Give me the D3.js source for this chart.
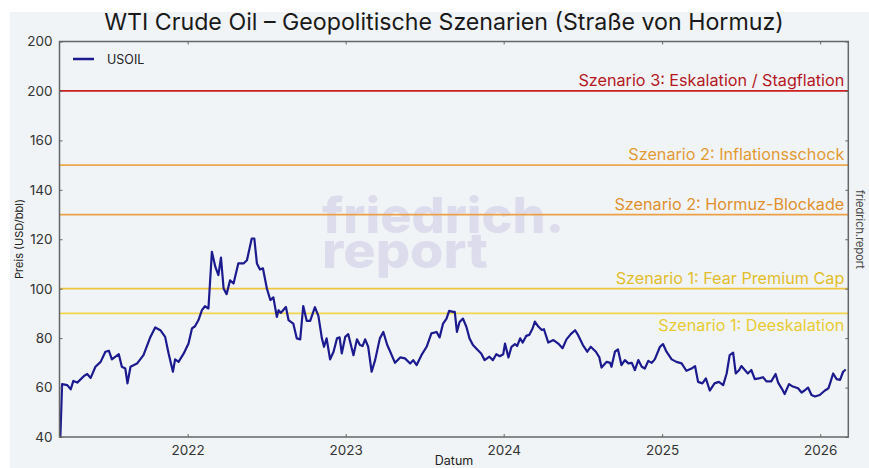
<!DOCTYPE html>
<html><head><meta charset="utf-8">
<script src="https://cdn.jsdelivr.net/npm/d3@7/dist/d3.min.js"></script>
<style>body{margin:0;background:#fff}svg{display:block}</style></head>
<body><svg id="c" width="869" height="468"></svg>
<script>
// ---- data ----
const dates = ["2021-03-13","2021-03-17","2021-03-29","2021-04-06","2021-04-12","2021-04-21","2021-05-06","2021-05-14","2021-05-22","2021-06-02","2021-06-14","2021-06-25","2021-07-03","2021-07-10","2021-07-26","2021-08-02","2021-08-10","2021-08-15","2021-08-22","2021-09-06","2021-09-21","2021-10-07","2021-10-18","2021-10-30","2021-11-10","2021-11-18","2021-11-28","2021-12-03","2021-12-11","2021-12-23","2022-01-03","2022-01-11","2022-01-18","2022-01-26","2022-02-03","2022-02-10","2022-02-18","2022-02-26","2022-03-06","2022-03-13","2022-03-19","2022-03-25","2022-04-01","2022-04-09","2022-04-17","2022-04-28","2022-05-10","2022-05-18","2022-05-29","2022-06-04","2022-06-10","2022-06-17","2022-06-24","2022-07-03","2022-07-11","2022-07-18","2022-07-26","2022-07-30","2022-08-04","2022-08-16","2022-08-22","2022-09-02","2022-09-10","2022-09-18","2022-09-25","2022-10-03","2022-10-11","2022-10-22","2022-10-30","2022-11-07","2022-11-12","2022-11-18","2022-11-26","2022-12-04","2022-12-12","2022-12-18","2022-12-23","2022-12-31","2023-01-07","2023-01-19","2023-01-27","2023-02-03","2023-02-09","2023-02-15","2023-02-22","2023-03-02","2023-03-10","2023-03-21","2023-03-29","2023-04-07","2023-04-14","2023-04-25","2023-05-07","2023-05-18","2023-05-30","2023-06-06","2023-06-14","2023-06-25","2023-07-07","2023-07-18","2023-07-30","2023-08-06","2023-08-14","2023-08-22","2023-08-28","2023-09-06","2023-09-10","2023-09-15","2023-09-21","2023-09-29","2023-10-07","2023-10-14","2023-10-22","2023-11-02","2023-11-10","2023-11-18","2023-11-29","2023-12-07","2023-12-15","2023-12-23","2023-12-31","2024-01-04","2024-01-12","2024-01-19","2024-01-27","2024-02-01","2024-02-08","2024-02-14","2024-02-22","2024-02-29","2024-03-08","2024-03-13","2024-03-21","2024-03-29","2024-04-03","2024-04-13","2024-04-25","2024-05-06","2024-05-16","2024-05-25","2024-06-04","2024-06-14","2024-06-21","2024-07-02","2024-07-12","2024-07-20","2024-08-01","2024-08-09","2024-08-14","2024-08-26","2024-09-03","2024-09-06","2024-09-14","2024-09-21","2024-09-29","2024-10-07","2024-10-15","2024-10-23","2024-10-30","2024-11-07","2024-11-15","2024-11-22","2024-11-30","2024-12-08","2024-12-15","2024-12-27","2025-01-03","2025-01-11","2025-01-23","2025-02-03","2025-02-15","2025-02-26","2025-03-10","2025-03-18","2025-03-25","2025-04-04","2025-04-12","2025-04-21","2025-05-02","2025-05-12","2025-05-22","2025-05-30","2025-06-06","2025-06-14","2025-06-20","2025-06-28","2025-07-03","2025-07-11","2025-07-18","2025-07-26","2025-08-03","2025-08-15","2025-08-22","2025-08-30","2025-09-10","2025-09-20","2025-09-26","2025-10-04","2025-10-11","2025-10-21","2025-10-30","2025-11-11","2025-11-19","2025-11-26","2025-12-04","2025-12-12","2025-12-20","2025-12-31","2026-01-12","2026-01-20","2026-01-25","2026-01-31","2026-02-08","2026-02-16","2026-02-23","2026-03-01"];
const prices = [40,61.4,61.0,59.3,62.7,62.0,64.6,65.5,63.9,68.4,70.4,74.5,74.9,71.4,73.5,68.4,67.7,61.7,68.4,69.7,73.1,80.5,84.3,83.2,80.5,73.8,66.4,71.4,70.4,73.8,77.8,83.9,84.8,87.3,91.3,92.9,92.0,114.9,108.8,105.5,112.6,100.1,97.8,103.4,102.1,110.2,110.2,111.5,120.3,120.3,110.2,107.8,108.2,100.1,95.4,96.5,88.6,91.3,90.2,92.6,87.3,85.9,79.9,79.5,93.0,87.0,87.0,92.5,89.0,80.0,76.5,79.9,71.4,74.5,79.9,80.3,73.8,80.5,81.6,73.1,79.5,77.2,76.8,79.5,76.5,66.4,71.1,79.9,82.5,77.2,74.5,70.0,72.2,71.8,69.7,71.1,69.1,73.1,76.5,81.9,82.5,80.3,85.9,87.9,91.0,90.6,90.6,82.5,86.5,87.9,84.5,79.9,77.2,75.2,73.8,71.1,72.5,71.1,73.5,72.7,73.5,77.8,72.2,76.5,77.6,76.8,79.9,78.2,80.9,81.3,84.0,86.7,84.7,83.3,83.6,78.2,79.2,77.8,75.9,79.5,81.6,83.2,81.2,77.2,74.5,76.5,74.5,72.2,68.1,70.4,70.0,68.4,74.5,75.4,69.1,71.1,69.8,70.0,67.1,71.1,68.4,67.7,70.8,70.0,71.4,76.5,77.6,74.5,71.4,70.4,69.8,66.8,67.7,68.7,62.3,61.7,63.7,58.8,61.7,62.3,61.0,65.7,73.1,74.1,65.7,67.1,68.7,67.1,65.7,67.1,63.4,63.8,64.2,62.5,62.5,65.5,62.0,59.7,57.4,61.4,60.4,59.7,58.0,58.8,60.0,57.0,56.4,57.0,58.8,59.7,62.3,65.7,63.4,63.1,66.4,67.3];

const scenarioNames  = ["Szenario 3: Eskalation / Stagflation","Szenario 2: Inflationsschock","Szenario 2: Hormuz-Blockade","Szenario 1: Fear Premium Cap","Szenario 1: Deeskalation"];
const scenarioLevels = [180,150,130,100,90];   // drawn positions on the y scale
const scenarioLabelBelow = [false,false,false,false,true];
const scenarioLineColors  = ["#cc1f1f","#eca84a","#eba047","#ebc440","#f0d44a"];
const scenarioLabelColors = ["#b5171f","#e39a35","#e0902d","#e2bd2d","#e8cb34"];

const yTickValues = [40,60,80,100,120,140,160,180,200];
const yTickLabels = ["40","60","80","100","120","140","160","200","200"];
const xTickYears  = [2022,2023,2024,2025,2026];

const seriesName = "USOIL";
const titleText = "WTI Crude Oil \u2013 Geopolitische Szenarien (Stra\u00dfe von Hormuz)";
const xLabel = "Datum";
const yLabel = "Preis (USD/bbl)";

// ---- drawing ----
const FONT = "Inter, 'Noto Sans', sans-serif";
const svg = d3.select("#c");
const L = 59.5, R = 848.3, T = 41.5, B = 437;
const parse = d3.utcParse("%Y-%m-%d");
const data = dates.map((d,i)=>({date:parse(d), v:prices[i]}));

const x = d3.scaleUtc().domain([parse("2021-03-11"), parse("2026-03-07")]).range([L,R]);
const y = d3.scaleLinear().domain([40,200]).range([B,T]);

// background
svg.append("rect").attr("x",0).attr("y",0).attr("width",869).attr("height",468).attr("fill","#ffffff");
svg.append("rect").attr("x",10).attr("y",12).attr("width",859).attr("height",456).attr("fill","#f1f4f7");

// watermark (two lines in one text element)
const wm = svg.append("text").attr("font-family","Inter, 'Open Sans', sans-serif").attr("font-weight",800)
  .attr("fill","#dcdcec").attr("font-size",49);
wm.append("tspan").attr("x",322).attr("y",233).attr("textLength",242).attr("lengthAdjust","spacingAndGlyphs").text("friedrich.");
wm.append("tspan").attr("x",322).attr("y",268).attr("textLength",166).attr("lengthAdjust","spacingAndGlyphs").text("report");

// scenario lines
const sc = svg.append("g");
scenarioLevels.forEach((lv,i)=>{
  sc.append("line").attr("x1",L).attr("x2",R).attr("y1",y(lv)).attr("y2",y(lv))
    .attr("stroke",scenarioLineColors[i]).attr("stroke-width",1.8);
  sc.append("text").attr("x",R-4).attr("y",scenarioLabelBelow[i] ? y(lv)+18 : y(lv)-5).attr("text-anchor","end")
    .attr("font-family",FONT).attr("font-size",16.2).attr("fill",scenarioLabelColors[i])
    .text(scenarioNames[i]);
});

// clip + price line
svg.append("clipPath").attr("id","clip").append("rect").attr("x",L).attr("y",T).attr("width",R-L).attr("height",B-T);
svg.append("path").datum(data).attr("clip-path","url(#clip)")
  .attr("fill","none").attr("stroke","#1b1a8f").attr("stroke-width",2.2).attr("stroke-linejoin","round")
  .attr("d", d3.line().x(d=>x(d.date)).y(d=>y(d.v)));

// axes
const yearDates = xTickYears.map(yr=>new Date(Date.UTC(yr,0,1)));
const axStyle = g=>{
  g.select(".domain").remove();
  g.selectAll(".tick line").attr("stroke","#666");
  g.selectAll(".tick text").attr("font-family",FONT).attr("fill","#333");
};
svg.append("g").attr("transform",`translate(${L},0)`)
  .call(d3.axisLeft(y).tickValues(yTickValues).tickSize(-3).tickPadding(7).tickFormat((d,i)=>yTickLabels[i]))
  .call(axStyle).call(g=>g.selectAll(".tick text").attr("font-size",13.5));
svg.append("g").attr("transform",`translate(${R},0)`)
  .call(d3.axisRight(y).tickValues(yTickValues).tickSize(-3).tickFormat(""))
  .call(axStyle);
svg.append("g").attr("transform",`translate(0,${B})`)
  .call(d3.axisBottom(x).tickValues(yearDates).tickSize(-3).tickPadding(8).tickFormat(d3.utcFormat("%Y")))
  .call(axStyle).call(g=>g.selectAll(".tick text").attr("font-size",13.5));
svg.append("g").attr("transform",`translate(0,${T})`)
  .call(d3.axisTop(x).tickValues(yearDates).tickSize(-3).tickFormat(""))
  .call(axStyle);

// frame
svg.append("rect").attr("x",L).attr("y",T).attr("width",R-L).attr("height",B-T)
  .attr("fill","none").attr("stroke","#666").attr("stroke-width",1.5);

// labels
svg.append("text").attr("x",454).attr("y",465).attr("text-anchor","middle")
  .attr("font-family",FONT).attr("font-size",12.5).attr("fill","#222").text(xLabel);
svg.append("text").attr("transform","translate(23,239) rotate(-90)").attr("text-anchor","middle")
  .attr("font-family",FONT).attr("font-size",11).attr("fill","#222").text(yLabel);
svg.append("text").attr("x",444).attr("y",30).attr("text-anchor","middle")
  .attr("font-family",FONT).attr("font-size",23.2).attr("fill","#1a1a1a").text(titleText);

// legend
svg.append("line").attr("x1",73).attr("x2",94).attr("y1",59).attr("y2",59).attr("stroke","#1b1a8f").attr("stroke-width",2.5);
svg.append("text").attr("x",107).attr("y",63.5).attr("font-family",FONT).attr("font-size",12.5).attr("fill","#222").text(seriesName);

// side watermark
svg.append("text").attr("transform","translate(856,190) rotate(90)")
  .attr("font-family",FONT).attr("font-size",11).attr("fill","#444").text("friedrich.report");
</script></body></html>
